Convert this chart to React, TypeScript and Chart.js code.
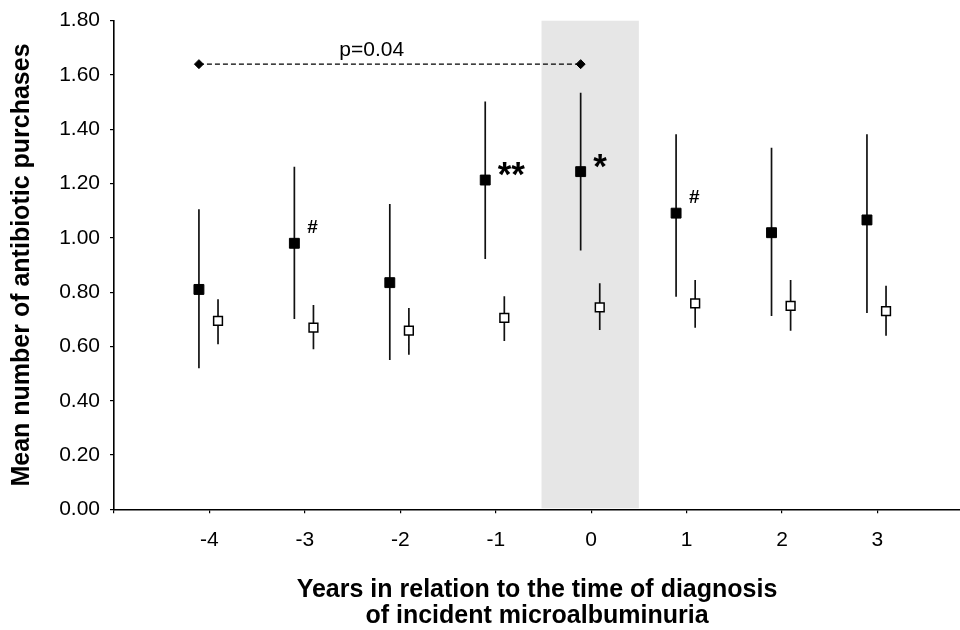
import React, { useEffect, useRef } from 'react';
import { Chart, registerables } from 'chart.js';

Chart.register(...registerables);

// ---- data ----
const years = [-4, -3, -2, -1, 0, 1, 2, 3];
const caseMean = [0.81, 0.98, 0.835, 1.213, 1.244, 1.091, 1.019, 1.066];
const caseLow = [0.52, 0.701, 0.55, 0.922, 0.953, 0.783, 0.712, 0.723];
const caseHigh = [1.105, 1.262, 1.125, 1.502, 1.535, 1.382, 1.332, 1.382];
const ctrlMean = [0.694, 0.669, 0.658, 0.705, 0.744, 0.759, 0.749, 0.73];
const ctrlLow = [0.608, 0.59, 0.569, 0.62, 0.661, 0.669, 0.658, 0.639];
const ctrlHigh = [0.774, 0.753, 0.742, 0.785, 0.833, 0.845, 0.845, 0.824];
const yTickValues = [0, 0.2, 0.4, 0.6, 0.8, 1.0, 1.2, 1.4, 1.6, 1.8];
const shadedYears = [-0.52, 0.5];
const bracketYears = [-4, 0];
const bracketValue = 1.64;
const pLabel = 'p=0.04';
const annotYears = [-3, -1, 0, 1];
const annotTexts = ['#', '**', '*', '#'];

// ---- layout / style constants ----
const CASE_SHIFT = -0.11;
const CTRL_SHIFT = 0.09;
const P_LABEL_X = -2.3;
const P_LABEL_Y = 1.67;
const FONT = "'Liberation Sans', Arial, sans-serif";

const barPoints = (shift: number, lo: number[], hi: number[]) =>
  years.flatMap((yr, i) => [
    { x: yr + shift, y: lo[i] },
    { x: yr + shift, y: hi[i] },
    { x: yr + shift, y: null as any },
  ]);

const overlayPlugin = {
  id: 'overlay',
  beforeDraw(chart: any) {
    const { ctx, chartArea, scales } = chart;
    const x = scales.x;
    const x0 = x.getPixelForValue(shadedYears[0]);
    const x1 = x.getPixelForValue(shadedYears[1]);
    ctx.save();
    ctx.fillStyle = '#e6e6e6';
    ctx.fillRect(x0, chartArea.top, x1 - x0, chartArea.bottom - chartArea.top - 1);
    ctx.restore();
  },
  afterDatasetsDraw(chart: any) {
    const { ctx, scales } = chart;
    const x = scales.x;
    const y = scales.y;
    ctx.save();
    ctx.fillStyle = '#000';
    ctx.textBaseline = 'alphabetic';
    ctx.textAlign = 'center';
    ctx.font = `21px ${FONT}`;
    ctx.fillText(pLabel, x.getPixelForValue(P_LABEL_X), y.getPixelForValue(P_LABEL_Y));
    ctx.textAlign = 'left';
    annotYears.forEach((yr, k) => {
      const idx = years.indexOf(yr);
      const mx = x.getPixelForValue(yr + CASE_SHIFT);
      const my = y.getPixelForValue(caseMean[idx]);
      const t = annotTexts[k];
      if (t.startsWith('#')) {
        ctx.font = `bold 19px ${FONT}`;
        ctx.fillText(t, mx + 13, my - 10);
      } else {
        ctx.font = `bold 35px ${FONT}`;
        ctx.fillText(t, mx + 12.5, my + 6);
      }
    });
    ctx.restore();
  },
};

export default function App() {
  const ref = useRef<HTMLCanvasElement | null>(null);

  useEffect(() => {
    if (!ref.current) return;
    const chart = new Chart(ref.current, {
      type: 'scatter',
      data: {
        datasets: [
          {
            label: 'Cases',
            data: years.map((yr, i) => ({ x: yr + CASE_SHIFT, y: caseMean[i] })),
            pointStyle: 'rect',
            pointRadius: 7,
            backgroundColor: '#000',
            borderColor: '#000',
            borderWidth: 1,
            order: 0,
          },
          {
            label: 'Controls',
            data: years.map((yr, i) => ({ x: yr + CTRL_SHIFT, y: ctrlMean[i] })),
            pointStyle: 'rect',
            pointRadius: 6.2,
            backgroundColor: '#fff',
            borderColor: '#000',
            borderWidth: 1.5,
            order: 1,
          },
          {
            label: 'Cases range',
            data: barPoints(CASE_SHIFT, caseLow, caseHigh),
            showLine: true,
            pointRadius: 0,
            borderColor: '#111',
            borderWidth: 1.7,
            spanGaps: false,
            order: 5,
          },
          {
            label: 'Controls range',
            data: barPoints(CTRL_SHIFT, ctrlLow, ctrlHigh),
            showLine: true,
            pointRadius: 0,
            borderColor: '#111',
            borderWidth: 1.7,
            spanGaps: false,
            order: 6,
          },
          {
            label: 'Comparison',
            data: bracketYears.map((yr) => ({ x: yr + CASE_SHIFT, y: bracketValue })),
            showLine: true,
            borderColor: '#000',
            borderWidth: 1.3,
            borderDash: [5, 3],
            pointStyle: 'rectRot',
            pointRadius: 4.5,
            backgroundColor: '#000',
            pointBorderColor: '#000',
            pointBorderWidth: 1,
            order: 4,
          },
        ] as any,
      },
      options: {
        animation: false,
        responsive: false,
        devicePixelRatio: 1,
        events: [],
        layout: { autoPadding: false, padding: { top: 20.7, right: 0, left: 0, bottom: 0 } },
        plugins: {
          legend: { display: false },
          tooltip: { enabled: false },
          title: { display: false },
        },
        scales: {
          x: {
            type: 'linear',
            min: -5,
            max: 3.865,
            afterBuildTicks: (s: any) => {
              s.ticks = [-5, ...years].map((v) => ({ value: v }));
            },
            afterFit: (s: any) => {
              s.height = 120.7;
              s.paddingLeft = 0;
              s.paddingRight = 0;
            },
            ticks: {
              autoSkip: false,
              maxRotation: 0,
              padding: 14,
              color: '#000',
              font: { family: FONT, size: 21 },
              callback: (v: any) => (years.includes(Number(v)) ? String(v) : ''),
            },
            grid: { drawOnChartArea: false, drawTicks: true, tickLength: 4, color: '#000', lineWidth: 1.2 },
            border: { color: '#000', width: 1.6 },
            title: {
              display: true,
              text: ['Years in relation to the time of diagnosis', 'of incident microalbuminuria'],
              color: '#000',
              font: { family: FONT, size: 25, weight: 'bold', lineHeight: 1.05 },
              padding: { top: 0, bottom: 1 },
            },
          },
          y: {
            type: 'linear',
            min: 0,
            max: 1.8,
            afterBuildTicks: (s: any) => {
              s.ticks = yTickValues.map((v) => ({ value: v }));
            },
            afterFit: (s: any) => {
              s.width = 114;
              s.paddingTop = 0;
              s.paddingBottom = 0;
            },
            ticks: {
              padding: 10,
              color: '#000',
              font: { family: FONT, size: 21 },
              callback: (v: any) => Number(v).toFixed(2),
            },
            grid: { drawOnChartArea: false, drawTicks: true, tickLength: 4, color: '#000', lineWidth: 1.2 },
            border: { color: '#000', width: 1.6 },
            title: {
              display: true,
              text: 'Mean number of antibiotic purchases',
              color: '#000',
              font: { family: FONT, size: 25, weight: 'bold', lineHeight: 1.05 },
              padding: { top: 9.4, bottom: 0 },
            },
          },
        },
      } as any,
      plugins: [overlayPlugin],
    });
    return () => chart.destroy();
  }, []);

  return (
    <div style={{ position: 'fixed', left: 0, top: 0, width: 960, height: 630, background: '#fff' }}>
      <canvas ref={ref} width={960} height={630} />
    </div>
  );
}
